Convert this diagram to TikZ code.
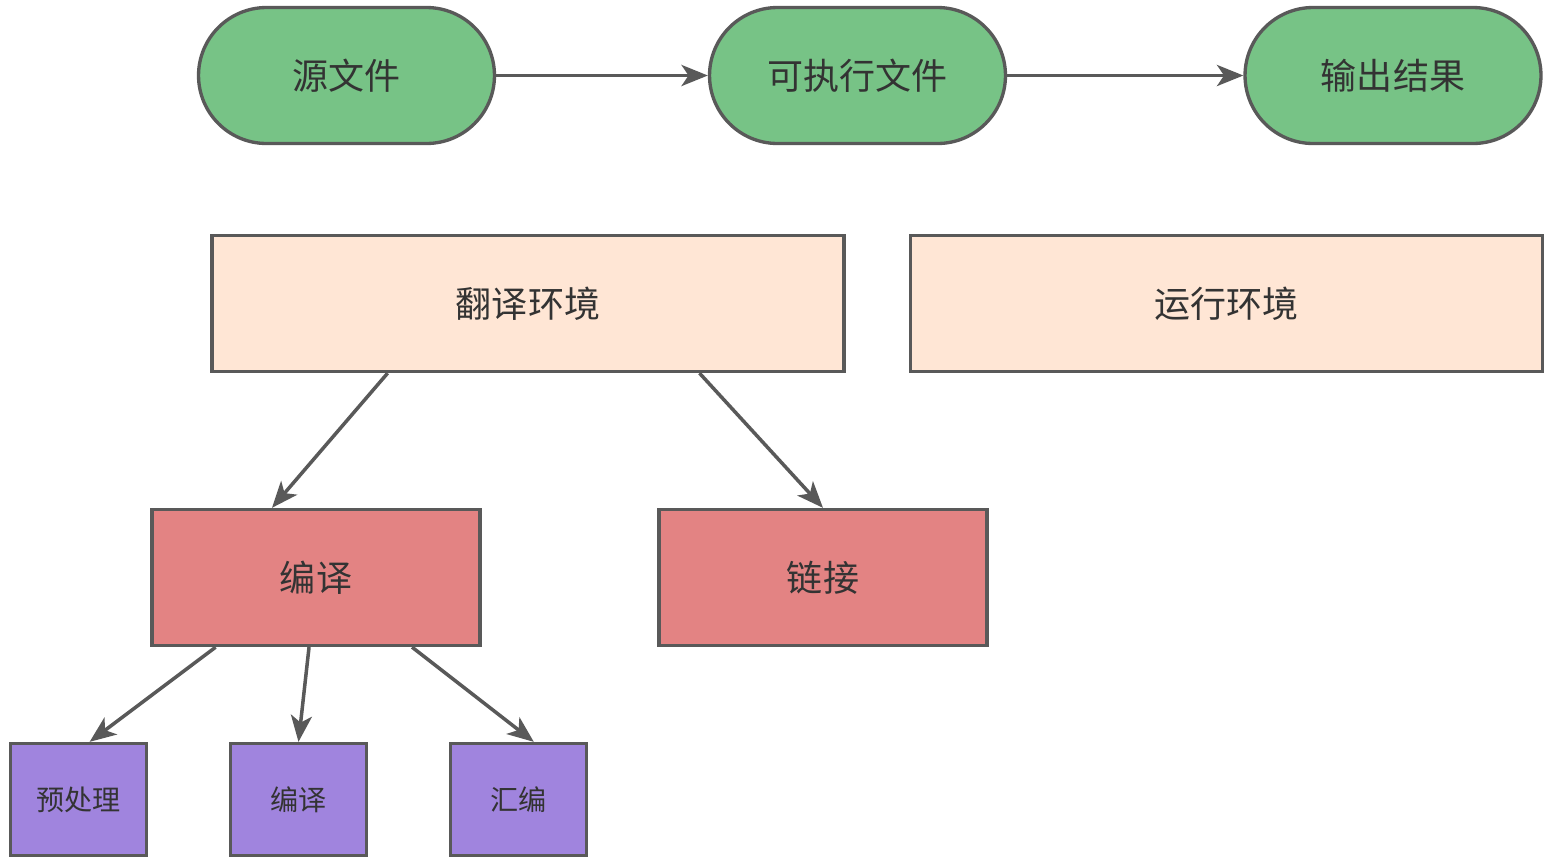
\documentclass[tikz,border=0pt]{standalone}
\usepackage{fontspec}
\setmainfont{Noto Sans CJK SC}
\usepackage{xcolor}
\usetikzlibrary{arrows.meta,calc}
\definecolor{lnc}{HTML}{595959}
\definecolor{stagec}{HTML}{77C386}
\definecolor{envc}{HTML}{FFE6D5}
\definecolor{stepc}{HTML}{E38383}
\definecolor{subc}{HTML}{A084DE}

\begin{document}
\begin{tikzpicture}[x=0.02cm,y=-0.02cm,>={Stealth[length=15pt,width=12pt,inset=4pt]},
  box/.style={draw=lnc,line width=1.9pt,text=black!80,font=\fontsize{20.5}{24}\selectfont,
    minimum height=2.72cm,inner sep=0pt},
  stage/.style={box,fill=stagec,minimum width=5.92cm,rounded corners=1.36cm},
  env/.style={box,fill=envc,minimum width=12.64cm},
  phase/.style={box,fill=stepc,minimum width=6.56cm},
  sub/.style={box,fill=subc,minimum width=2.72cm,minimum height=2.24cm,
    font=\fontsize{16}{19}\selectfont},
  link/.style={->,draw=lnc,line width=2pt}]
  \useasboundingbox (0,0) rectangle (1555,863);
  % top row
  \node[stage] (src) at (346.5,75.5) {源文件};
  \node[stage] (exe) at (857.5,75.5) {可执行文件};
  \node[stage] (out) at (1393,75.5) {输出结果};
  \draw[link] (src) -- (exe);
  \draw[link] (exe) -- (out);
  % environments
  \node[env] (trans) at (528,303.5) {翻译环境};
  \node[env] (run) at (1226.5,303.5) {运行环境};
  % translation phases
  \node[phase] (comp) at (316,577.5) {编译};
  \node[phase] (lnk) at (823,577.5) {链接};
  \draw[link] ($(trans.south west)!0.279!(trans.south east)$) -- ($(comp.north west)!0.367!(comp.north east)$);
  \draw[link] ($(trans.south west)!0.77!(trans.south east)$) -- (lnk.north);
  % compile steps
  \node[sub] (pre) at (78.5,799.5) {预处理};
  \node[sub] (cc) at (298.5,799.5) {编译};
  \node[sub] (asm) at (518.5,799.5) {汇编};
  \draw[link] ($(comp.south west)!0.197!(comp.south east)$) -- ($(pre.north west)!0.58!(pre.north east)$);
  \draw[link] ($(comp.south west)!0.479!(comp.south east)$) -- (cc.north);
  \draw[link] ($(comp.south west)!0.79!(comp.south east)$) -- ($(asm.north west)!0.61!(asm.north east)$);
\end{tikzpicture}
\end{document}
